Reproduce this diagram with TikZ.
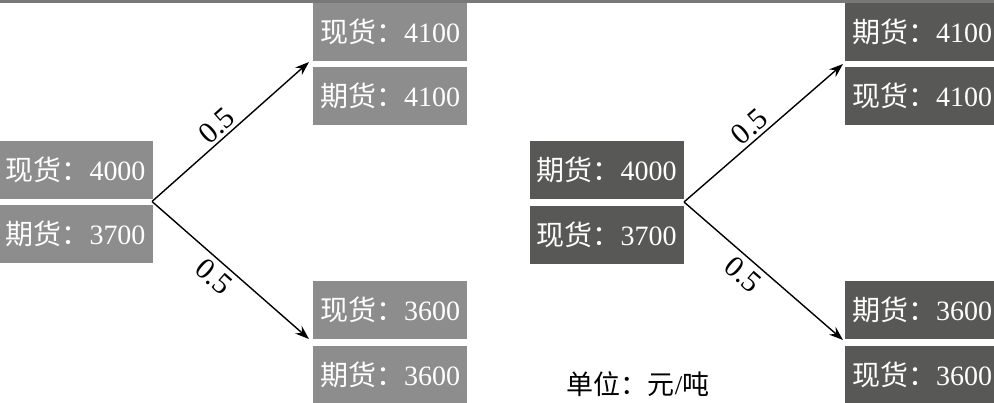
\documentclass[tikz,border=0pt]{standalone}
\usepackage{fontspec}
\setmainfont{Liberation Serif}
\newfontfamily\cjk{Noto Sans CJK SC}
\usetikzlibrary{arrows.meta}
\definecolor{lbox}{RGB}{141,141,141}
\definecolor{dbox}{RGB}{88,88,86}
\definecolor{topline}{RGB}{120,120,120}
\newcommand\bxt[2]{{\cjk #1}#2}
\begin{document}
\begin{tikzpicture}[x=1pt,y=-1pt,
  box/.style={rectangle,inner sep=0pt,minimum width=154pt,minimum height=58pt,
    text=white,font=\fontsize{28}{30}\selectfont},
  lb/.style={box,fill=lbox},
  db/.style={box,fill=dbox},
  arr/.style={line width=1.4pt,-{Stealth[length=14pt,width=10pt]}},
  prob/.style={font=\fontsize{30}{32}\selectfont,sloped,inner sep=3pt},
  probb/.style={font=\fontsize{30}{32}\selectfont,sloped,inner sep=5pt}]
\useasboundingbox (0,0) rectangle (994,402);
\clip (0,0) rectangle (994,402);
\fill[topline] (0,0) rectangle (994,2.5);
% left diagram
\node[lb] (a1) at (75.5,169.5) {\bxt{现货：}{4000}};
\node[lb] (a2) at (75.5,234) {\bxt{期货：}{3700}};
\node[lb] (b1) at (390,32) {\bxt{现货：}{4100}};
\node[lb] (b2) at (390,96) {\bxt{期货：}{4100}};
\node[lb] (c1) at (390,310) {\bxt{现货：}{3600}};
\node[lb] (c2) at (390,375) {\bxt{期货：}{3600}};
\coordinate (p) at (152,201.5);
\coordinate (pu) at (309,62);
\coordinate (pd) at (309,339);
\draw[arr] (p) -- node[prob,above,pos=0.47] (l1) {0.5} (pu);
\draw[arr] (p) -- node[probb,below,pos=0.46] (l2) {0.5} (pd);
% right diagram
\node[db] (d1) at (606.5,170) {\bxt{期货：}{4000}};
\node[db] (d2) at (606.5,235) {\bxt{现货：}{3700}};
\node[db] (e1) at (922,32) {\bxt{期货：}{4100}};
\node[db] (e2) at (922,96) {\bxt{现货：}{4100}};
\node[db] (f1) at (922,310) {\bxt{期货：}{3600}};
\node[db] (f2) at (922,375) {\bxt{现货：}{3600}};
\coordinate (q) at (684,202);
\coordinate (qu) at (843,64);
\coordinate (qd) at (843,340);
\draw[arr] (q) -- node[prob,above,pos=0.47] (m1) {0.5} (qu);
\draw[arr] (q) -- node[probb,below,pos=0.44] (m2) {0.5} (qd);
\node[font=\fontsize{27}{30}\selectfont] (unit) at (638,384) {\bxt{单位：元}{/}{\cjk 吨}};
\end{tikzpicture}
\end{document}
